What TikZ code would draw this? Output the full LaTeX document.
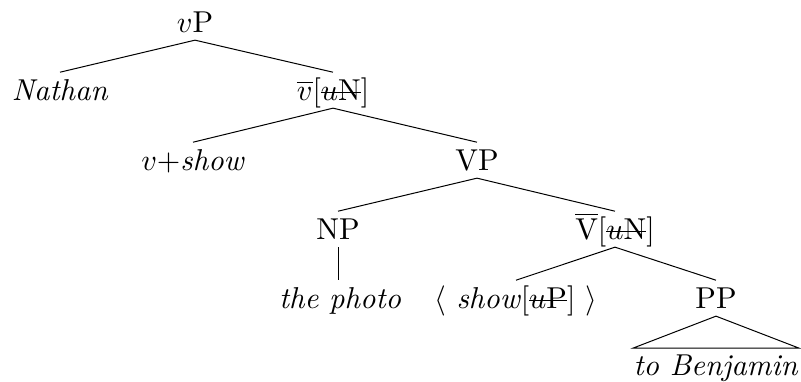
\documentclass[tikz,border=0pt]{standalone}
\usepackage{tikz}
\usetikzlibrary{positioning}
% strike-through for checked features
\newcommand{\strk}[1]{\leavevmode\setbox0\hbox{#1}\rlap{\rule[0.23em]{\wd0}{0.04em}}\box0}

\begin{document}
\begin{tikzpicture}[x=1pt, y=-1pt,
  cat/.style={anchor=base, inner sep=0pt, text height=9pt, text depth=2.5pt, scale=3.02, transform shape},
  branch/.style={line width=1pt}
]
\useasboundingbox (0,0) rectangle (801,381);
\node[cat] (vP) at (195,32) {$v$P};
\node[cat] (nathan) at (60,100) {\textit{Nathan}};
\node[cat] (vbar) at (333,100) {$\overline{v}$[\strk{$u$N}]};
\node[cat] (vshow) at (193,170) {$v$+\textit{show}};
\node[cat] (VP) at (477,170) {VP};
\node[cat] (NP) at (338,239) {NP};
\node[cat] (Vbar) at (615,239) {$\overline{\mbox{V}}$[\strk{$u$N}]};
\node[cat] (photo) at (340,308) {\textit{the photo}};
\node[cat] (show) at (516,308) {$\langle$ \textit{show}[\strk{$u$P}] $\rangle$};
\node[cat] (PP) at (716,308) {PP};
\node[cat, text height=8.7pt] (benj) at (716,375) {\textit{to Benjamin}};

\draw[branch] (vP.south) -- (nathan.north);
\draw[branch] (vP.south) -- (vbar.north);
\draw[branch] (vbar.south) -- (vshow.north);
\draw[branch] (vbar.south) -- (VP.north);
\draw[branch] (VP.south) -- (NP.north);
\draw[branch] (VP.south) -- (Vbar.north);
\draw[branch] (NP.south) -- (NP.south |- photo.north);
\draw[branch] (Vbar.south) -- (show.north);
\draw[branch] (Vbar.south) -- (PP.north);
\draw[branch] (PP.south) -- (benj.north west) -- (benj.north east) -- cycle;
\end{tikzpicture}
\end{document}
